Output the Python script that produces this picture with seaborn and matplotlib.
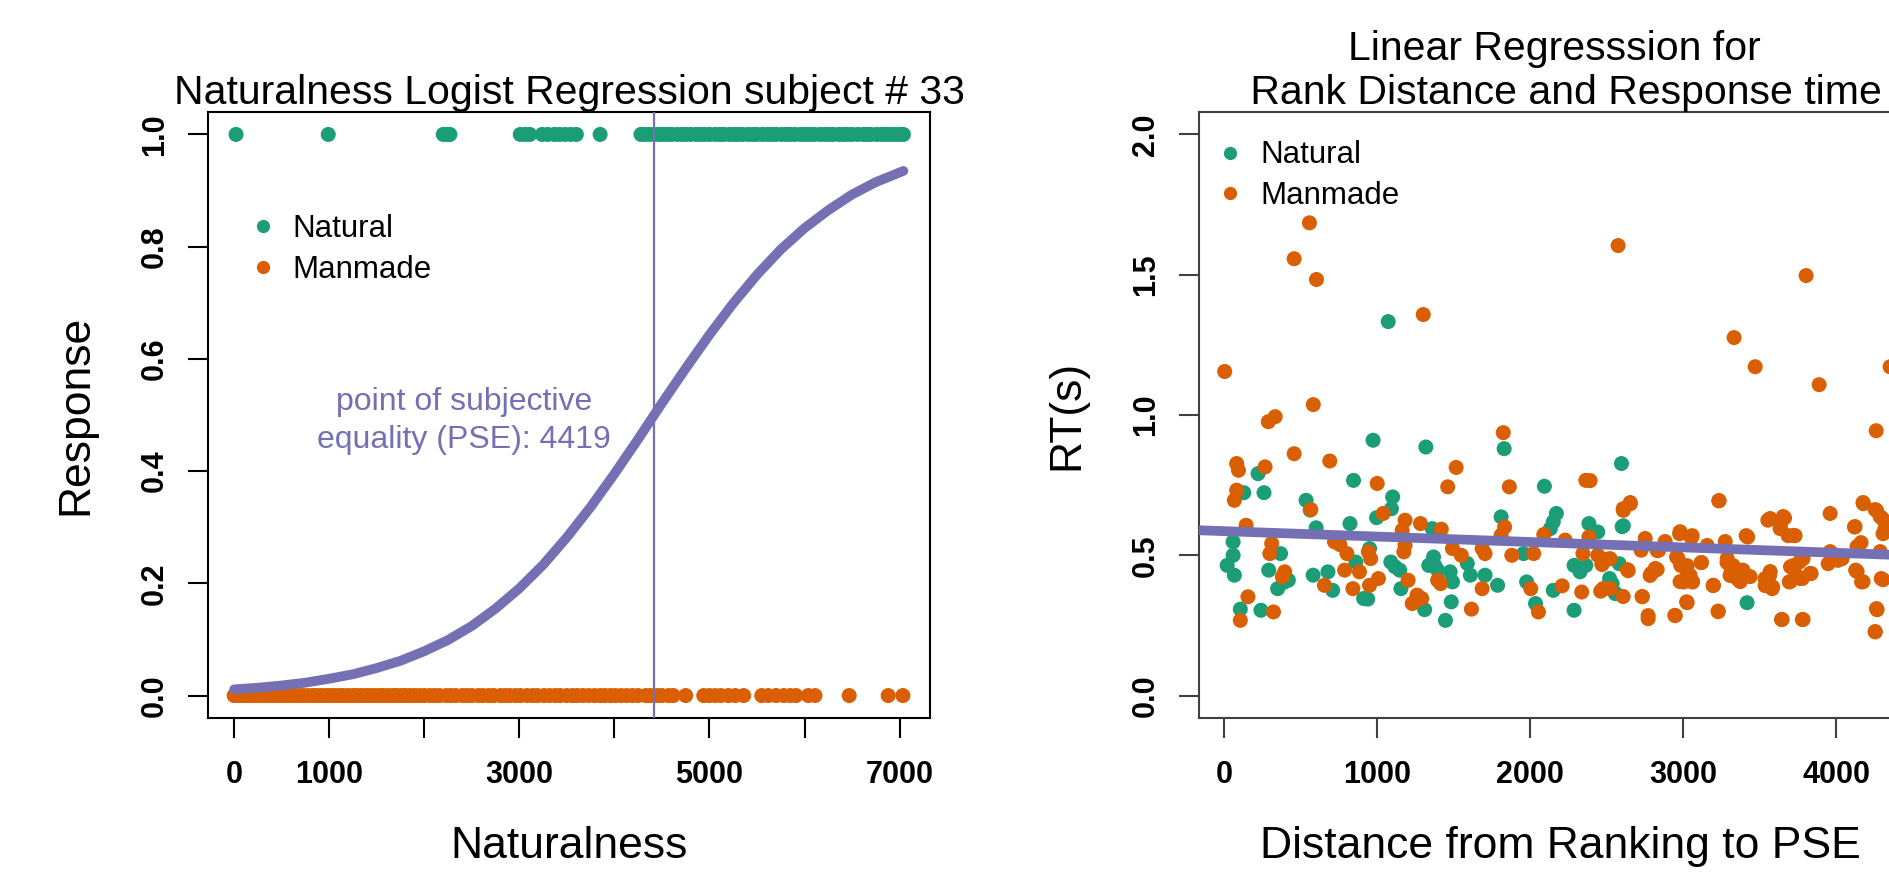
import numpy as np
import pandas as pd
import matplotlib
matplotlib.use('Agg')
import matplotlib.pyplot as plt
from matplotlib.lines import Line2D
import seaborn as sns

# 颜色 (Dark2)
GREEN = '#1B9E77'
ORANGE = '#D95F02'
PURPLE = '#7570B3'

# ---- 左图: Naturalness logistic regression ----
NAT_X = [20, 990, 2200, 2240, 2270, 3010, 3060, 3110, 3240, 3300, 3370, 3420, 3480, 3540, 3600,
         3850, 4280, 4320, 4370, 4420, 4470, 4510, 4560, 4600, 4660, 4710, 4750, 4800, 4860,
         4910, 4950, 5000, 5060, 5110, 5150, 5210, 5260, 5300, 5350, 5410, 5460, 5500, 5560,
         5610, 5650, 5700, 5760, 5810, 5850, 5900, 5960, 6010, 6050, 6100, 6160, 6210, 6250,
         6300, 6360, 6410, 6450, 6500, 6560, 6620, 6660, 6700, 6760, 6810, 6850, 6900, 6950,
         7000, 7040]
MAN_X = [0, 40, 90, 130, 180, 220, 270, 320, 360, 410, 450, 500, 550, 590, 640, 690, 730, 780,
         830, 870, 920, 970, 1010, 1060, 1110, 1150, 1200, 1250, 1290, 1340, 1390, 1430, 1480,
         1530, 1570, 1620, 1670, 1710, 1760, 1800, 1850, 1900, 1950, 2000, 2060, 2110, 2160,
         2230, 2280, 2330, 2400, 2450, 2500, 2570, 2620, 2680, 2730, 2800, 2850, 2900, 2960,
         3010, 3080, 3140, 3190, 3260, 3320, 3380, 3430, 3500, 3560, 3610, 3670, 3730, 3790,
         3850, 3900, 3960, 4010, 4070, 4130, 4190, 4250, 4330, 4380, 4450, 4500, 4570, 4620,
         4750, 4940, 5000, 5060, 5120, 5200, 5270, 5360, 5550, 5620, 5700, 5780, 5850, 5910,
         6040, 6110, 6470, 6880, 7035]

# logistic curve
CURVE_X = [0, 250, 500, 750, 1000, 1250, 1500, 1750, 2000, 2250, 2500, 2750, 3000, 3250, 3500,
           3750, 4000, 4250, 4500, 4750, 5000, 5250, 5500, 5750, 6000, 6250, 6500, 6750, 7040]
CURVE_Y = [0.011, 0.014, 0.018, 0.023, 0.030, 0.038, 0.049, 0.062, 0.079, 0.099, 0.124, 0.155,
           0.191, 0.233, 0.282, 0.336, 0.395, 0.457, 0.521, 0.583, 0.643, 0.699, 0.750, 0.795,
           0.833, 0.865, 0.893, 0.915, 0.935]
PSE = 4419

# ---- 右图: distance vs response time ----
NAT_DIST = [973, 1318, 1830, 2597, 221, 845, 260, 128, 2093, 1101, 1093, 535, 562, 2171, 822,
            996, 1810, 601, 58, 58, 19, 66, 368, 291, 349, 388, 419, 581, 678, 709, 950, 860,
            911, 938, 1089, 1116, 1147, 1155, 1368, 1376, 1337, 1395, 1360, 1310, 1446, 1484,
            1477, 1492, 1589, 1609, 1705, 1787, 1957, 1977, 2035, 2151, 2287, 2287, 2326, 2364,
            2151, 2132, 2384, 2442, 2519, 2558, 2609, 1072, 2601, 2582, 2536, 2556, 3418, 105,
            240]
NAT_RT = [0.91, 0.886, 0.88, 0.827, 0.791, 0.767, 0.723, 0.723, 0.746, 0.708, 0.666, 0.696,
          0.661, 0.649, 0.613, 0.634, 0.637, 0.598, 0.548, 0.500, 0.464, 0.429, 0.506, 0.447,
          0.381, 0.403, 0.411, 0.429, 0.441, 0.375, 0.524, 0.476, 0.346, 0.344, 0.476, 0.459,
          0.447, 0.381, 0.494, 0.464, 0.464, 0.447, 0.595, 0.306, 0.268, 0.334, 0.441, 0.405,
          0.471, 0.429, 0.429, 0.393, 0.506, 0.405, 0.328, 0.375, 0.304, 0.464, 0.441, 0.464,
          0.619, 0.595, 0.613, 0.583, 0.417, 0.364, 0.605, 1.333, 0.602, 0.470, 0.399, 0.364,
          0.331, 0.308, 0.304]

MAN_DIST = [3, 557, 457, 603, 1301, 2575, 3804, 3333, 3471, 3889, 4353, 4262, 582, 288, 333, 1824,
            2392, 3235, 2608, 2654, 3961, 4176, 4255, 4288, 4320, 4307, 4124, 3569, 3654, 3634,
            3686, 3732, 3412, 2980, 3059, 2752, 2882, 2830, 3157, 3275, 4163, 4137, 4288, 3961,
            4039, 3948, 3719, 3784, 2967, 3026, 3046, 2980, 3059, 3118, 2784, 2830, 2641, 2471,
            2523, 3288, 3327, 3307, 3353, 3392, 3438, 3373, 3196, 3569, 3536, 3582, 3536, 3699,
            3765, 3830, 4137, 4176, 4307, 2477, 2523, 2608, 2732, 3026, 2771, 2948, 3229, 3647,
            3784, 4268, 4255,
            81, 93, 267, 457, 690, 81, 66, 1000, 143, 566, 1039, 1182, 1163, 1283, 1419, 1516,
            1461, 1864, 2364, 2609, 2655, 3233, 4178, 4264, 4302, 4341, 4120, 3554, 3663, 3636,
            3721, 3422, 2977, 3054, 2229, 2384, 2089, 1833, 1810, 310, 298, 721, 756, 1182, 1174,
            942, 957, 802, 1550, 1492, 1686, 1705, 1880, 2023, 2345, 2442, 2469, 2500, 2636,
            2725, 2791, 2818, 2841, 2957, 2984, 3023, 3004, 3062, 3120, 3198, 3287, 3314, 3333,
            3372, 3411, 3391, 3566, 3585, 3702, 3760, 3740, 3694, 3779, 3837, 3973, 4012, 4128,
            4167, 4295, 4264, 4256, 2771, 2946, 3023, 3229, 2733, 3643, 3779, 2337, 2481, 2461,
            2209, 2054, 2004, 1686, 1616, 1260, 1229, 1291, 1202, 950, 1008, 841, 655, 787, 884,
            395, 380, 155, 105, 322, 1395, 1415]
MAN_RT = [1.155, 1.685, 1.557, 1.483, 1.358, 1.604, 1.497, 1.276, 1.172, 1.108, 1.172, 0.944,
          1.037, 0.976, 0.994, 0.937,
          0.766, 0.695, 0.666, 0.688, 0.649, 0.688, 0.663, 0.638, 0.595, 0.577, 0.602, 0.631,
          0.638, 0.595, 0.570, 0.570, 0.570, 0.584, 0.570, 0.560, 0.549, 0.517, 0.535, 0.549,
          0.545, 0.531, 0.513, 0.513, 0.488, 0.470, 0.463, 0.488, 0.488, 0.463, 0.428, 0.406,
          0.406, 0.474, 0.428, 0.449, 0.445, 0.470, 0.488, 0.488, 0.463, 0.428, 0.417, 0.428,
          0.424, 0.406, 0.392, 0.442, 0.417, 0.381, 0.392, 0.406, 0.417, 0.435, 0.442, 0.406,
          0.413, 0.381, 0.381, 0.353, 0.353, 0.331, 0.285, 0.285, 0.299, 0.271, 0.271, 0.306,
          0.228,
          0.827, 0.803, 0.815, 0.862, 0.836, 0.732, 0.696, 0.756, 0.607, 0.663, 0.649, 0.625,
          0.589, 0.613, 0.593, 0.813, 0.744, 0.744, 0.767, 0.660, 0.684, 0.694, 0.684, 0.660,
          0.631, 0.601, 0.601, 0.625, 0.633, 0.601, 0.571, 0.565, 0.577, 0.562, 0.554, 0.565,
          0.574, 0.601, 0.571, 0.542, 0.506, 0.548, 0.538, 0.536, 0.512, 0.512, 0.488, 0.506,
          0.500, 0.524, 0.524, 0.506, 0.500, 0.506, 0.506, 0.500, 0.467, 0.486, 0.449, 0.518,
          0.435, 0.453, 0.518, 0.494, 0.464, 0.447, 0.405, 0.405, 0.474, 0.393, 0.474, 0.441,
          0.429, 0.423, 0.429, 0.447, 0.429, 0.387, 0.459, 0.476, 0.429, 0.405, 0.417, 0.435,
          0.506, 0.482, 0.447, 0.405, 0.417, 0.310, 0.227, 0.274, 0.286, 0.334, 0.301, 0.352,
          0.271, 0.271, 0.369, 0.381, 0.372, 0.391, 0.298, 0.381, 0.381, 0.308, 0.358, 0.328,
          0.346, 0.411, 0.393, 0.417, 0.381, 0.393, 0.447, 0.441, 0.441, 0.423, 0.352, 0.268,
          0.298, 0.411, 0.399]

REG_INTERCEPT = 0.586
REG_SLOPE = -0.0000193

LEFT_XTICKS = [0, 1000, 2000, 3000, 4000, 5000, 6000, 7000]
LEFT_XLABELS = ['0', '1000', '', '3000', '', '5000', '', '7000']
LEFT_YTICKS = [0.0, 0.2, 0.4, 0.6, 0.8, 1.0]
RIGHT_XTICKS = [0, 1000, 2000, 3000, 4000]
RIGHT_YTICKS = [0.0, 0.5, 1.0, 1.5, 2.0]


def style_axes(ax, edge):
    for sp in ax.spines.values():
        sp.set_visible(True)
        sp.set_color(edge)
        sp.set_linewidth(1.5)
    ax.tick_params(axis='both', direction='out', length=14.5, width=1.5, color=edge,
                   labelsize=22, labelcolor='black')
    ax.tick_params(axis='x', pad=16, bottom=True)
    ax.tick_params(axis='y', pad=13, left=True)
    plt.setp(ax.get_xticklabels(), fontweight='bold')
    plt.setp(ax.get_yticklabels(), fontweight='bold', rotation=90, va='center', ha='right')


def add_legend(ax, anchor):
    handles = [Line2D([], [], marker='o', linestyle='', color=GREEN, markersize=8.5),
               Line2D([], [], marker='o', linestyle='', color=ORANGE, markersize=8.5)]
    ax.legend(handles, ['Natural', 'Manmade'], loc='upper left', bbox_to_anchor=anchor,
              frameon=False, fontsize=22.5, handlelength=0.6, handletextpad=0.66,
              labelspacing=0.35, borderpad=0, borderaxespad=0, labelcolor='black')


sns.set_style('white')
plt.rcParams['font.family'] = ['Liberation Sans', 'DejaVu Sans']
plt.rcParams['text.color'] = 'black'
plt.rcParams['axes.labelcolor'] = 'black'

fig = plt.figure(figsize=(18.9, 8.8), dpi=100)
ax1 = fig.add_axes([208 / 1890, 162 / 880, 722 / 1890, 606 / 880])
ax2 = fig.add_axes([1199 / 1890, 162 / 880, 722 / 1890, 606 / 880])

# 左图
df_left = pd.DataFrame({
    'Naturalness': NAT_X + MAN_X,
    'Response': [1.0] * len(NAT_X) + [0.0] * len(MAN_X),
    'Type': ['Natural'] * len(NAT_X) + ['Manmade'] * len(MAN_X),
})
sns.scatterplot(data=df_left, x='Naturalness', y='Response', hue='Type',
                palette={'Natural': GREEN, 'Manmade': ORANGE}, s=117, linewidth=0,
                legend=False, ax=ax1, zorder=2)
sns.lineplot(x=CURVE_X, y=CURVE_Y, color=PURPLE, linewidth=7, ax=ax1, zorder=3,
             solid_capstyle='round', solid_joinstyle='round')
ax1.axvline(PSE, color=PURPLE, linewidth=1.6, zorder=4)
ax1.text(2420, 0.49, 'point of subjective\nequality (PSE): 4419', color=PURPLE,
         fontsize=23, ha='center', va='center', linespacing=1.35)
ax1.set_xlim(-275, 7320)
ax1.set_ylim(-0.04, 1.04)
ax1.set_xticks(LEFT_XTICKS, LEFT_XLABELS)
ax1.set_yticks(LEFT_YTICKS, [f'{v:.1f}' for v in LEFT_YTICKS])
ax1.set_title('Naturalness Logist Regression subject # 33', fontsize=29.5, pad=0, va='bottom',
              color='black')
ax1.set_xlabel('Naturalness', fontsize=32, va='top')
ax1.set_ylabel('Response', fontsize=32)
ax1.xaxis.set_label_coords(0.5, -0.178)
ax1.yaxis.set_label_coords(-0.155, 0.5)
style_axes(ax1, 'black')
add_legend(ax1, (0.063, 0.831))

# 右图
df_right = pd.DataFrame({
    'Distance': NAT_DIST + MAN_DIST,
    'RT': NAT_RT + MAN_RT,
    'Type': ['Natural'] * len(NAT_DIST) + ['Manmade'] * len(MAN_DIST),
})
sns.scatterplot(data=df_right, x='Distance', y='RT', hue='Type',
                palette={'Natural': GREEN, 'Manmade': ORANGE}, s=117, linewidth=0,
                legend=False, ax=ax2, zorder=2)
ax2.axline((0, REG_INTERCEPT), slope=REG_SLOPE, color=PURPLE, linewidth=7, zorder=3)
ax2.set_xlim(-165, 4555)
ax2.set_ylim(-0.08, 2.08)
ax2.set_xticks(RIGHT_XTICKS, [str(v) for v in RIGHT_XTICKS])
ax2.set_yticks(RIGHT_YTICKS, [f'{v:.1f}' for v in RIGHT_YTICKS])
ax2.set_title('Linear Regresssion for \n Rank Distance and Response time', fontsize=29.5,
              pad=0, va='bottom', color='black')
ax2.set_xlabel('Distance from Ranking to PSE', fontsize=32, va='top')
ax2.set_ylabel('RT(s)', fontsize=32)
ax2.xaxis.set_label_coords(0.5, -0.178)
ax2.yaxis.set_label_coords(-0.155, 0.5)
style_axes(ax2, '#404040')
add_legend(ax2, (0.03, 0.953))

fig.savefig('out.png', dpi=100)
